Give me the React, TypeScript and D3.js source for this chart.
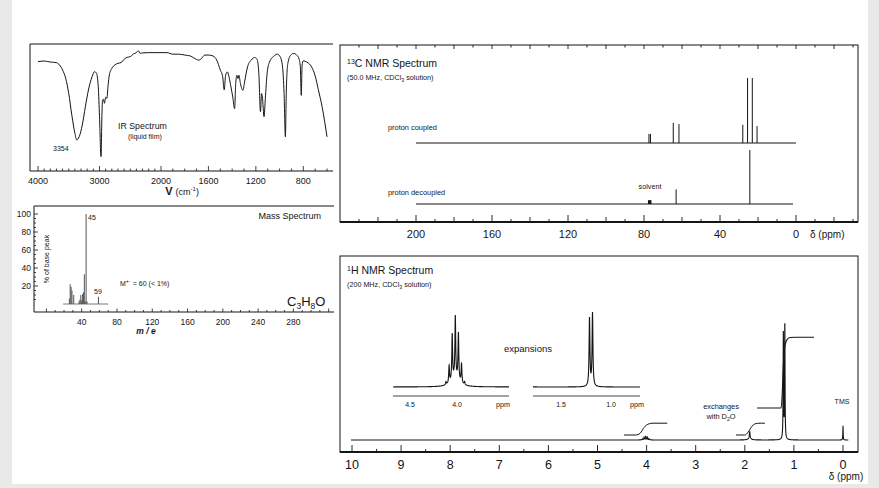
import React from "react";
import * as d3 from "d3";

const FONT = '"Liberation Sans", Arial, Helvetica, sans-serif';
const INK = "#151515";

// IR trace: [wavenumber cm-1, % transmittance]
const irTrace: [number, number][] = [
  [4000, 86.1], [3900, 86.6], [3800, 85.8], [3700, 85.3], [3650, 83.5], [3600, 79.5],
  [3550, 73], [3500, 61], [3450, 44], [3400, 29.7], [3370, 24.4], [3330, 27],
  [3280, 36.2], [3230, 50.6], [3180, 63.8], [3120, 74.3], [3080, 78.2], [3050, 77],
  [3020, 66.4], [3000, 42.8], [2975, 11.3], [2960, 45.4], [2950, 56], [2935, 56.4],
  [2920, 53.3], [2900, 58], [2880, 57.2], [2860, 67.7], [2840, 75.6], [2800, 80.8],
  [2750, 83.5], [2700, 84.8], [2650, 85.3], [2600, 88], [2550, 89.5], [2500, 90],
  [2450, 92.1], [2400, 93.2], [2370, 94.7], [2340, 92.7], [2300, 93], [2200, 93.2],
  [2100, 93.2], [2000, 93.2], [1950, 93.2], [1900, 92], [1850, 92], [1800, 91.3],
  [1750, 90.5], [1700, 87.8], [1680, 87.3], [1660, 88.5], [1630, 91.3], [1600, 91.3],
  [1560, 90.5], [1530, 87.3], [1500, 79.5], [1480, 74.3], [1467, 63.8], [1455, 75.4],
  [1440, 78], [1425, 73.5], [1410, 66.2], [1395, 58.3], [1379, 49.1], [1370, 68.8],
  [1360, 75.4], [1350, 72.8], [1343, 75.4], [1330, 68.8], [1309, 63.5], [1295, 70.2],
  [1270, 82], [1240, 87.3], [1210, 89.4], [1190, 88], [1175, 77], [1161, 46.7],
  [1152, 61], [1145, 58.4], [1131, 42.8], [1120, 57.2], [1105, 77], [1085, 85.8],
  [1050, 90.3], [1020, 92], [995, 90], [975, 82], [962, 61], [951, 26.9],
  [943, 63.8], [930, 84.8], [905, 91.3], [880, 92.6], [855, 91.3], [835, 88],
  [825, 82], [817, 59.6], [810, 83.3], [800, 86.7], [770, 85.8], [730, 82],
  [700, 75], [673, 64], [640, 50], [600, 26.9],
];
const irTickLabels = [4000, 3000, 2000, 1600, 1200, 800];

// mass spectrum
const massMz = [26, 27, 28, 29, 31, 37, 38, 39, 40, 41, 42, 43, 44, 45, 46, 59];
const massPct = [6, 22, 19, 15, 10, 3, 5, 10, 4, 11, 13, 33, 3, 100, 3, 8];
const massXLabels = [40, 80, 120, 160, 200, 240, 280];
const massYLabels = [20, 40, 60, 80, 100];

// 13C NMR (ppm, relative height)
const c13CoupledPpm = [77.4, 76.6, 64.6, 61.6, 28.0, 25.5, 23.0, 20.5];
const c13CoupledHeight = [0.14, 0.14, 0.31, 0.29, 0.28, 1.0, 1.0, 0.26];
const c13DecoupledPpm = [77.5, 77.0, 76.5, 63.1, 24.3];
const c13DecoupledHeight = [0.07, 0.07, 0.07, 0.27, 1.0];
const c13TickLabels = [200, 160, 120, 80, 40, 0];

// 1H NMR lines (ppm, height, half width)
const h1Ppm = [4.117, 4.084, 4.051, 4.018, 3.985, 3.952, 3.919, 4.018, 1.9, 1.9, 1.215, 1.185, 0.0];
const h1Height = [0.0015, 0.0085, 0.0225, 0.03, 0.023, 0.0095, 0.0015, 0.004, 0.06, 0.012, 0.93, 1.0, 0.12];
const h1Width = [0.005, 0.005, 0.005, 0.005, 0.005, 0.005, 0.005, 0.05, 0.008, 0.04, 0.005, 0.005, 0.004];
const h1TickLabels = [10, 9, 8, 7, 6, 5, 4, 3, 2, 1, 0];

// integral traces (ppm, protons)
const intCHPpm = [4.46, 4.22, 4.13, 4.05, 3.97, 3.87, 3.58];
const intCHH = [0, 0, 0.15, 0.65, 0.92, 1, 1];
const intOHPpm = [2.18, 2.0, 1.93, 1.87, 1.79, 1.69, 1.59];
const intOHH = [0, 0, 0.25, 0.65, 0.95, 1, 1];
const intCH3Ppm = [1.75, 1.26, 1.24, 1.21, 1.18, 1.14, 1.08, 0.95, 0.59];
const intCH3H = [0, 0, 1.0, 4.0, 5.3, 5.8, 5.97, 6, 6];

function lorentz(ppm: number) {
  let s = 0;
  for (let i = 0; i < h1Ppm.length; i++) {
    const d = (ppm - h1Ppm[i]) / h1Width[i];
    s += h1Height[i] / (1 + d * d);
  }
  return s;
}

const txt = { fontFamily: FONT, fill: INK };

export default function App() {
  // ---------- IR
  const irX = d3.scaleLinear().domain([4000, 2000, 600]).range([38, 161, 327]);
  const irY = d3.scaleLinear().domain([0, 100]).range([171, 44]);
  const irPath = d3.line<[number, number]>()
    .x(d => irX(d[0])).y(d => irY(d[1]))
    .curve(d3.curveMonotoneX)(irTrace) || "";
  const irTicks = d3.range(4000, 599, -100);

  // ---------- mass
  const mX = d3.scaleLinear().domain([0, 280]).range([46.4, 293.4]);
  const mY = d3.scaleLinear().domain([0, 100]).range([304, 214]);
  const mXTicks = d3.range(0, 321, 10);
  const mYTicks = d3.range(5, 101, 5);

  // ---------- 13C
  const cX = d3.scaleLinear().domain([200, 0]).range([416, 796]);
  const cYc = d3.scaleLinear().domain([0, 1]).range([143, 78]);
  const cYd = d3.scaleLinear().domain([0, 1]).range([204, 150]);
  const cTicks = d3.range(-30, 231, 10);

  // ---------- 1H
  const hX = d3.scaleLinear().domain([10, 0]).range([352, 843]);
  const hY = d3.scaleLinear().domain([0, 1]).range([440, 322]);
  const mainPts = d3.range(10.02, -0.11, -0.002);
  const mainPath = d3.line<number>().x(p => hX(p)).y(p => hY(lorentz(p)))(mainPts) || "";
  const hTicks = d3.range(0, 10.01, 0.5);
  const perH = 11.8;
  const intLine = (ppm: number[], hs: number[], base: number) =>
    d3.line<number>().x((_, i) => hX(ppm[i])).y(h => base - h * perH).curve(d3.curveMonotoneX)(hs) || "";

  // expansions
  const eL = d3.scaleLinear().domain([4.5, 4.0]).range([410, 457]);
  const eR = d3.scaleLinear().domain([1.5, 1.0]).range([561, 611]);
  const expBase = 387;
  const expansion = (sc: d3.ScaleLinear<number, number>, x0: number, x1: number, tall: number) => {
    const pts = d3.range(sc.invert(x0), sc.invert(x1), -0.0005);
    const vals = pts.map(lorentz);
    const mx = d3.max(vals) || 1;
    return d3.line<number>().x((_, i) => sc(pts[i])).y(v => expBase - (v / mx) * tall)(vals) || "";
  };
  const expLPath = expansion(eL, 393, 509, 72);
  const expRPath = expansion(eR, 533, 640, 75);

  return (
    <div style={{ position: "absolute", left: 0, top: 0, opacity: 0.999 }}>
      <svg width={879} height={488} style={{ display: "block" }}>
        <rect x={0} y={0} width={879} height={488} fill="#e9e9e9" />
        <rect x={12} y={0} width={856} height={484} fill="#ffffff" />

        {/* ================= IR ================= */}
        <g fill="none" stroke={INK}>
          <path d="M30,171 V44 H333" strokeWidth={1} />
          <line x1={30} x2={333} y1={171} y2={171} strokeWidth={1.2} />
          {irTicks.map(t => (
            <line key={t} x1={irX(t)} x2={irX(t)} y1={171}
              y2={171 - (irTickLabels.includes(t) ? 5 : 2.5)} strokeWidth={0.8} />
          ))}
          <path d={irPath} strokeWidth={1} />
        </g>
        {irTickLabels.map(t => (
          <text key={t} x={irX(t)} y={184} fontSize={9} textAnchor="middle" {...txt}>{t}</text>
        ))}
        <text x={182} y={195} fontSize={11} textAnchor="middle" {...txt}>
          <tspan fontWeight="bold">V</tspan> <tspan fontSize={9}>(cm</tspan><tspan fontSize={6} dy={-4}>-1</tspan><tspan fontSize={9} dy={4}>)</tspan>
        </text>
        <text x={118} y={129} fontSize={8.8} {...txt}>IR Spectrum</text>
        <text x={128} y={139} fontSize={7} {...txt}>(liquid film)</text>
        <text x={53} y={151} fontSize={7} {...txt}>3354</text>

        {/* ================= Mass ================= */}
        <g fill="none" stroke={INK}>
          <path d="M334,206 H34 V312 H334" strokeWidth={1} />
          {mXTicks.map(t => (
            <line key={t} x1={mX(t)} x2={mX(t)} y1={312} y2={312 - (t % 40 === 0 ? 3.5 : 2)} strokeWidth={0.8} />
          ))}
          {mYTicks.map(t => (
            <line key={t} x1={34} x2={34 + (t % 20 === 0 ? 4 : 2)} y1={mY(t)} y2={mY(t)} strokeWidth={0.8} />
          ))}
          <line x1={mX(19)} x2={mX(70)} y1={mY(0)} y2={mY(0)} stroke="#555" strokeWidth={0.8} />
          {massMz.map((m, i) => (
            <line key={m} x1={mX(m)} x2={mX(m)} y1={mY(0)} y2={mY(massPct[i])} stroke="#555" strokeWidth={1} />
          ))}
        </g>
        {massYLabels.map(t => (
          <text key={t} x={31} y={mY(t) + 3} fontSize={8.5} textAnchor="end" {...txt}>{t}</text>
        ))}
        {massXLabels.map(t => (
          <text key={t} x={mX(t)} y={325} fontSize={8.5} textAnchor="middle" {...txt}>{t}</text>
        ))}
        <text x={146} y={334} fontSize={8.5} fontStyle="italic" fontWeight="bold" textAnchor="middle" {...txt}>m / e</text>
        <text transform="translate(49,259) rotate(-90)" fontSize={7} textAnchor="middle" {...txt}>% of base peak</text>
        <text x={88} y={220} fontSize={7} {...txt}>45</text>
        <text x={94} y={294} fontSize={7} {...txt}>59</text>
        <text x={120} y={286} fontSize={7} {...txt}>
          M<tspan fontSize={5.5} dy={-3}>+·</tspan><tspan dy={3}> = 60 (&lt; 1%)</tspan>
        </text>
        <text x={321} y={219} fontSize={9} textAnchor="end" {...txt}>Mass Spectrum</text>
        <text x={287} y={306} fontSize={13} {...txt}>
          C<tspan fontSize={8.5} dy={3}>3</tspan><tspan dy={-3}>H</tspan><tspan fontSize={8.5} dy={3}>8</tspan><tspan dy={-3}>O</tspan>
        </text>

        {/* ================= 13C NMR ================= */}
        <g fill="none" stroke={INK}>
          <rect x={340} y={45} width={518} height={177} strokeWidth={1} />
          <line x1={340} x2={858} y1={222} y2={222} strokeWidth={1.8} />
          {cTicks.map(t => (
            <g key={t}>
              <line x1={cX(t)} x2={cX(t)} y1={222}
                y2={222 - (t % 40 === 0 ? 7 : t % 20 === 0 ? 5 : 3)} strokeWidth={0.9} />
              <line x1={cX(t)} x2={cX(t)} y1={45} y2={45 + (t % 20 === 0 ? 4 : 2.5)} strokeWidth={0.9} />
            </g>
          ))}
          <line x1={cX(200)} x2={cX(0)} y1={cYc(0)} y2={cYc(0)} strokeWidth={1} />
          {c13CoupledPpm.map((p, i) => (
            <line key={i} x1={cX(p)} x2={cX(p)} y1={cYc(0)} y2={cYc(c13CoupledHeight[i])} strokeWidth={1} />
          ))}
          <line x1={cX(200)} x2={cX(0) - 3} y1={cYd(0)} y2={cYd(0)} strokeWidth={1} />
          {c13DecoupledPpm.map((p, i) => (
            <line key={i} x1={cX(p)} x2={cX(p)} y1={cYd(0)} y2={cYd(c13DecoupledHeight[i])}
              strokeWidth={i < 3 ? 1.6 : 1} />
          ))}
        </g>
        <text x={347} y={67} fontSize={10.5} {...txt}>
          <tspan fontSize={7} dy={-3}>13</tspan><tspan dy={3}>C NMR Spectrum</tspan>
        </text>
        <text x={347} y={80} fontSize={7.2} {...txt}>
          (50.0 MHz, CDCl<tspan fontSize={5.2} dy={2}>3</tspan><tspan dy={-2}> solution)</tspan>
        </text>
        <text x={388} y={130} fontSize={7.4} {...txt}>proton coupled</text>
        <text x={388} y={195} fontSize={7.4} {...txt}>proton decoupled</text>
        <text x={650} y={189} fontSize={7.2} textAnchor="middle" {...txt}>solvent</text>
        {c13TickLabels.map(t => (
          <text key={t} x={cX(t)} y={238} fontSize={11} textAnchor="middle" {...txt}>{t}</text>
        ))}
        <text x={810} y={238} fontSize={10} {...txt}>δ (ppm)</text>

        {/* ================= 1H NMR ================= */}
        <g fill="none" stroke={INK}>
          <rect x={340} y={256} width={518} height={196} strokeWidth={1} />
          <line x1={340} x2={858} y1={452} y2={452} strokeWidth={1.8} />
          {hTicks.map(t => (
            <line key={t} x1={hX(t)} x2={hX(t)} y1={452}
              y2={452 - (Math.abs(t % 1) < 0.01 ? 7 : 3)} strokeWidth={0.9} />
          ))}
          <path d={mainPath} strokeWidth={1.1} />
          <path d={intLine(intCHPpm, intCHH, 435)} strokeWidth={1} />
          <path d={intLine(intOHPpm, intOHH, 435)} strokeWidth={1} />
          <path d={intLine(intCH3Ppm, intCH3H, 408)} strokeWidth={1.1} />

          {/* expansions */}
          <path d={expLPath} strokeWidth={1.1} />
          <line x1={393} x2={509} y1={396} y2={396} strokeWidth={0.8} />
          <path d={expRPath} strokeWidth={1.1} />
          <line x1={533} x2={640} y1={396} y2={396} strokeWidth={0.8} />
        </g>
        <text x={347} y={274} fontSize={10.5} {...txt}>
          <tspan fontSize={7} dy={-3}>1</tspan><tspan dy={3}>H NMR Spectrum</tspan>
        </text>
        <text x={347} y={287} fontSize={7.2} {...txt}>
          (200 MHz, CDCl<tspan fontSize={5.2} dy={2}>3</tspan><tspan dy={-2}> solution)</tspan>
        </text>
        <text x={528} y={352} fontSize={9.5} textAnchor="middle" {...txt}>expansions</text>
        {[4.5, 4.0].map(t => (
          <text key={t} x={eL(t)} y={407} fontSize={7} textAnchor="middle" {...txt}>{t.toFixed(1)}</text>
        ))}
        <text x={503} y={407} fontSize={7.2} textAnchor="middle" {...txt}>ppm</text>
        {[1.5, 1.0].map(t => (
          <text key={t} x={eR(t)} y={407} fontSize={7} textAnchor="middle" {...txt}>{t.toFixed(1)}</text>
        ))}
        <text x={637} y={407} fontSize={7.2} textAnchor="middle" {...txt}>ppm</text>
        <text x={721} y={409} fontSize={7.4} textAnchor="middle" {...txt}>exchanges</text>
        <text x={721} y={418.5} fontSize={7.4} textAnchor="middle" {...txt}>
          with D<tspan fontSize={5.2} dy={2}>2</tspan><tspan dy={-2}>O</tspan>
        </text>
        <text x={842} y={404} fontSize={7} textAnchor="middle" {...txt}>TMS</text>
        {h1TickLabels.map(t => (
          <text key={t} x={hX(t)} y={469} fontSize={12.5} textAnchor="middle" {...txt}>{t}</text>
        ))}
        <text x={846} y={480} fontSize={10} textAnchor="middle" {...txt}>δ (ppm)</text>
      </svg>
    </div>
  );
}
